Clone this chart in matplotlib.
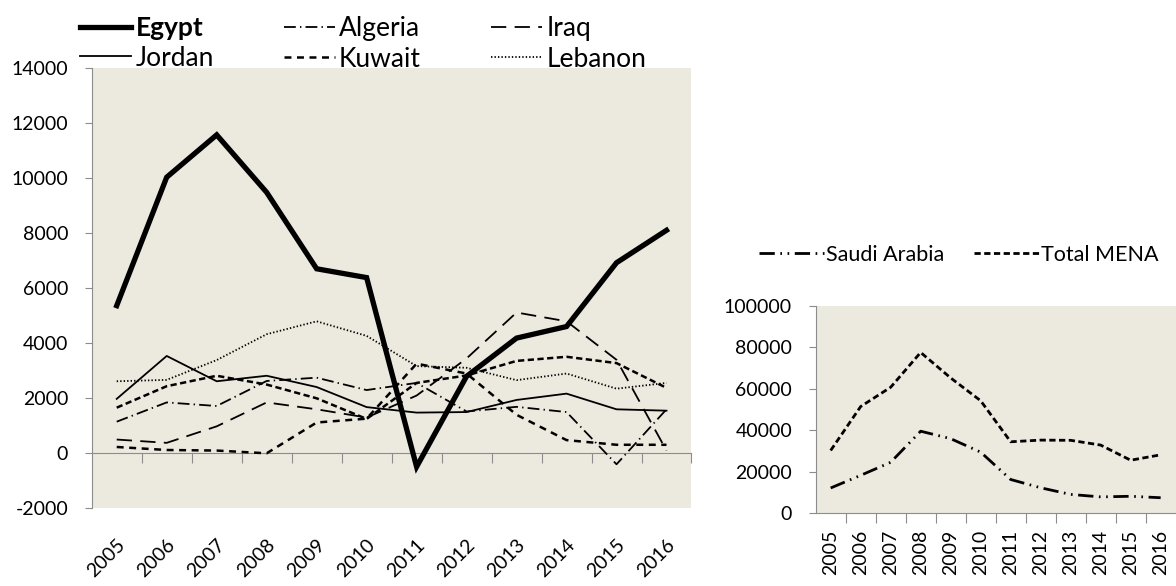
import numpy as np
import matplotlib
matplotlib.use("Agg")
import matplotlib.pyplot as plt

plt.rcParams['font.family'] = ['Lato', 'DejaVu Sans']
plt.rcParams['lines.scale_dashes'] = False
plt.rcParams['axes.unicode_minus'] = False

# Data
years = list(range(2005, 2017))
egypt = [5370, 10040, 11580, 9490, 6710, 6390, -490, 2800, 4190, 4610, 6930, 8110]
algeria = [1150, 1850, 1720, 2630, 2750, 2300, 2560, 1520, 1690, 1500, -400, 1600]
iraq = [500, 380, 980, 1850, 1600, 1300, 2100, 3450, 5120, 4800, 3400, 100]
jordan = [1980, 3540, 2620, 2820, 2410, 1680, 1480, 1500, 1940, 2170, 1600, 1550]
kuwait = [230, 120, 100, 0, 1120, 1260, 3260, 2900, 1400, 480, 310, 310]
lebanon = [2620, 2670, 3390, 4330, 4800, 4270, 3170, 3110, 2660, 2900, 2350, 2560]
morocco = [1660, 2440, 2820, 2500, 2000, 1250, 2560, 2830, 3360, 3510, 3280, 2380]  # 7th line, not in legend

saudi = [12200, 18300, 24600, 39600, 36000, 29500, 16300, 12300, 9100, 7900, 8200, 7500]
total_mena = [30300, 51500, 60800, 77600, 65300, 54300, 34500, 35300, 35200, 32900, 25600, 28200]

bg = '#ECE9DF'
spine_col = '#8C8C8C'
fs = 14

fig = plt.figure(figsize=(11.76, 5.86), dpi=100)

# ---------------- left chart ----------------
ax = fig.add_axes([0.078, 0.1326, 0.510, 0.7508])
ax.set_facecolor(bg)
x = np.arange(len(years))

l_eg, = ax.plot(x, egypt, color='black', lw=3.8, label='Egypt', solid_joinstyle='miter')
l_al, = ax.plot(x, algeria, color='black', lw=1.3, dashes=(8.5, 3, 1, 3), label='Algeria')
l_iq, = ax.plot(x, iraq, color='black', lw=1.3, dashes=(11, 6), label='Iraq')
l_jo, = ax.plot(x, jordan, color='black', lw=1.3, label='Jordan')
l_ku, = ax.plot(x, kuwait, color='black', lw=1.8, dashes=(5, 4), label='Kuwait')
l_le, = ax.plot(x, lebanon, color='black', lw=1.3, dashes=(1, 1.5), label='Lebanon')
ax.plot(x, morocco, color='black', lw=1.8, dashes=(4.5, 2.5))

ax.set_xlim(-0.5, len(years) - 0.5)
ax.set_ylim(-2000, 14000)
ax.set_yticks(range(-2000, 14001, 2000))
ax.tick_params(axis='y', length=5, color=spine_col, labelsize=fs, pad=12)
for s in ['top', 'right', 'bottom']:
    ax.spines[s].set_visible(False)
ax.spines['left'].set_color(spine_col)

ax.set_xticks(x)
ax.set_xticklabels([str(y) for y in years], rotation=45, ha='right', va='top',
                   rotation_mode='anchor', fontsize=fs)
ax.tick_params(axis='x', length=0, pad=20)

# zero axis line with boundary ticks
sec = ax.secondary_xaxis(2000 / 16000)
sec.set_xticks(np.arange(0.5, len(years), 1.0))
sec.set_xticklabels([])
sec.tick_params(length=7, color=spine_col, direction='out')
sec.spines['bottom'].set_color(spine_col)

leg = fig.legend(handles=[l_eg, l_jo, l_al, l_ku, l_iq, l_le], ncol=3,
                 loc='upper left', bbox_to_anchor=(0.068, 0.973), frameon=False,
                 fontsize=19, handlelength=1.95, handletextpad=0.15,
                 columnspacing=2.65, labelspacing=0.22, borderaxespad=0, borderpad=0)
leg.get_texts()[0].set_fontweight('bold')

# ---------------- right chart ----------------
ax2 = fig.add_axes([0.6936, 0.1241, 0.3061, 0.3537])
ax2.set_facecolor(bg)
l_sa, = ax2.plot(x, saudi, color='black', lw=2, dashes=(11, 4, 1.2, 4, 1.2, 4), label='Saudi Arabia')
l_tm, = ax2.plot(x, total_mena, color='black', lw=2, dashes=(4.5, 2.5), label='Total MENA')
ax2.set_xlim(-0.5, len(years) - 0.5)
ax2.set_ylim(0, 100000)
ax2.set_yticks(range(0, 100001, 20000))
ax2.tick_params(axis='y', length=5, color=spine_col, labelsize=fs, pad=12)
for s in ['top', 'right']:
    ax2.spines[s].set_visible(False)
ax2.spines['left'].set_color(spine_col)
ax2.spines['bottom'].set_color(spine_col)
ax2.set_xticks(np.arange(0.5, len(years) - 1, 1.0))
ax2.set_xticklabels([])
ax2.tick_params(axis='x', which='major', length=7, color=spine_col)
ax2.set_xticks(x, minor=True)
ax2.set_xticklabels([str(y) for y in years], minor=True, rotation=90, fontsize=fs)
ax2.tick_params(axis='x', which='minor', length=0, pad=12)

fig.legend(handles=[l_sa, l_tm], ncol=2, loc='upper left',
           bbox_to_anchor=(0.6454, 0.582), frameon=False, fontsize=15.5,
           handlelength=3.0, handletextpad=0.1, columnspacing=1.4,
           borderaxespad=0, borderpad=0)

fig.savefig('out.png', dpi=100)
